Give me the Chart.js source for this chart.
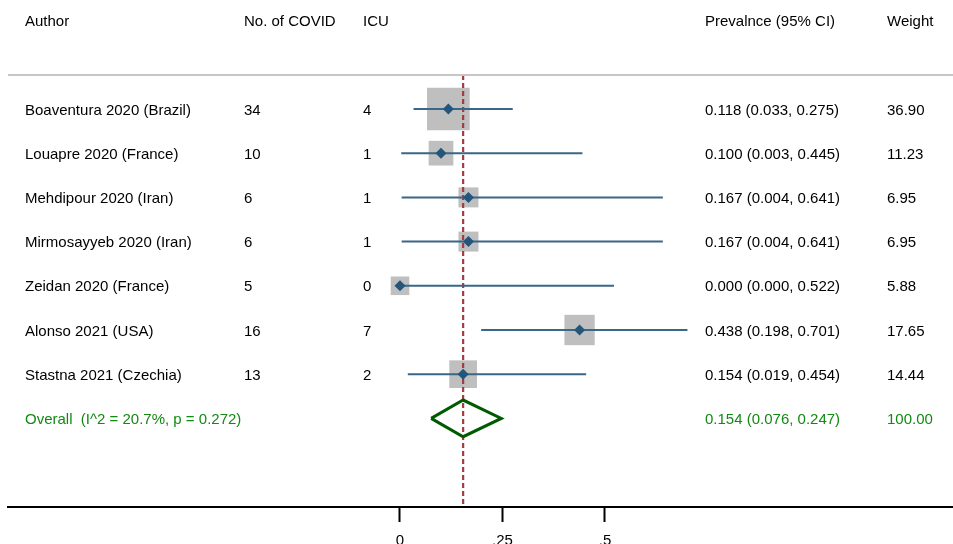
<!DOCTYPE html>
<html>
<head>
<meta charset="utf-8">
<script src="https://cdn.jsdelivr.net/npm/chart.js@4/dist/chart.umd.min.js"></script>
<style>
  html, body { margin: 0; padding: 0; background: #fff; }
  #wrap { width: 953px; height: 544px; position: relative; overflow: hidden; }
  canvas { display: block; }
</style>
</head>
<body>
<div id="wrap"><canvas id="c" width="953" height="544"></canvas></div>
<script>
// ---------- data ----------
const headers = ['Author', 'No. of COVID', 'ICU', 'Prevalnce (95% CI)', 'Weight'];
const authors = [
  'Boaventura 2020 (Brazil)',
  'Louapre 2020 (France)',
  'Mehdipour 2020 (Iran)',
  'Mirmosayyeb 2020 (Iran)',
  'Zeidan 2020 (France)',
  'Alonso 2021 (USA)',
  'Stastna 2021 (Czechia)'
];
const nCovid = [34, 10, 6, 6, 5, 16, 13];
const nIcu = [4, 1, 1, 1, 0, 7, 2];
const prevalence = [0.118, 0.100, 0.167, 0.167, 0.000, 0.438, 0.154];
const ciLower = [0.033, 0.003, 0.004, 0.004, 0.000, 0.198, 0.019];
const ciUpper = [0.275, 0.445, 0.641, 0.641, 0.522, 0.701, 0.454];
const weights = [36.90, 11.23, 6.95, 6.95, 5.88, 17.65, 14.44];
const overallLabel = 'Overall  (I^2 = 20.7%, p = 0.272)';
const overallEst = 0.154;
const overallLower = 0.076;
const overallUpper = 0.247;
const overallWeight = 100.00;
const tickValues = [0, 0.25, 0.5];
const tickLabels = ['0', '.25', '.5'];

// ---------- layout / style constants ----------
const FONT = '"Liberation Sans", Arial, Helvetica, sans-serif';
const FONT_SIZE = 15;
const TEXT_DY = 1.5;
const X_MIN = -0.9561, X_MAX = 1.3488;
const Y_MIN = -2.466, Y_MAX = 9.005;
const HEADER_ROW = -2;
const SEP_ROW = -0.77;
const OVERALL_ROW = authors.length;
const DIAMOND_HALF = 0.415;
const COL_X = [25, 244, 363, 705, 887];
const BLACK = '#000000';
const GREEN_TEXT = '#128a12';
const GREEN_DIAMOND = '#005a00';
const BOX_GRAY = '#bfbfbf';
const CI_BLUE = '#3a6788';
const MARK_BLUE = '#24557a';
const REF_RED = '#a63a3c';

function boxSide(w) { return 6.6 * Math.sqrt(w) + 2.6; }
const fmt3 = v => v.toFixed(3);

// ---------- datasets ----------
const rows = authors.map((_, i) => i);

const boxData = rows.map(i => ({ x: prevalence[i], y: i }));
const markData = rows.map(i => ({ x: prevalence[i], y: i }));
const ciData = [];
rows.forEach(i => {
  ciData.push({ x: ciLower[i], y: i });
  ciData.push({ x: ciUpper[i], y: i });
  ciData.push({ x: NaN, y: NaN });
});
const diamondData = [
  { x: overallLower, y: OVERALL_ROW },
  { x: overallEst, y: OVERALL_ROW - DIAMOND_HALF },
  { x: overallUpper, y: OVERALL_ROW },
  { x: overallEst, y: OVERALL_ROW + DIAMOND_HALF },
  { x: overallLower, y: OVERALL_ROW }
];
const refData = [
  { x: overallEst, y: SEP_ROW },
  { x: overallEst, y: Y_MAX }
];

// ---------- text plugin ----------
const textPlugin = {
  id: 'forestText',
  afterDatasetsDraw(chart) {
    const ctx = chart.ctx;
    const ys = chart.scales.y;
    const area = chart.chartArea;
    ctx.save();
    // separator line
    const sy = ys.getPixelForValue(SEP_ROW);
    ctx.strokeStyle = '#c6c6c6';
    ctx.lineWidth = 2;
    ctx.beginPath();
    ctx.moveTo(area.left, sy);
    ctx.lineTo(area.right, sy);
    ctx.stroke();

    ctx.font = FONT_SIZE + 'px ' + FONT;
    ctx.textBaseline = 'middle';
    ctx.textAlign = 'left';
    ctx.fillStyle = BLACK;
    const hy = ys.getPixelForValue(HEADER_ROW) + TEXT_DY;
    headers.forEach((h, k) => ctx.fillText(h, COL_X[k], hy));
    rows.forEach(i => {
      const y = ys.getPixelForValue(i) + TEXT_DY;
      ctx.fillText(authors[i], COL_X[0], y);
      ctx.fillText(String(nCovid[i]), COL_X[1], y);
      ctx.fillText(String(nIcu[i]), COL_X[2], y);
      ctx.fillText(fmt3(prevalence[i]) + ' (' + fmt3(ciLower[i]) + ', ' + fmt3(ciUpper[i]) + ')', COL_X[3], y);
      ctx.fillText(weights[i].toFixed(2), COL_X[4], y);
    });
    const oy = ys.getPixelForValue(OVERALL_ROW) + TEXT_DY;
    ctx.fillStyle = GREEN_TEXT;
    ctx.fillText(overallLabel, COL_X[0], oy);
    ctx.fillText(fmt3(overallEst) + ' (' + fmt3(overallLower) + ', ' + fmt3(overallUpper) + ')', COL_X[3], oy);
    ctx.fillText(overallWeight.toFixed(2), COL_X[4], oy);
    ctx.restore();
  }
};

new Chart(document.getElementById('c'), {
  type: 'scatter',
  data: {
    datasets: [
      {
        label: 'estimate', data: markData, order: 1,
        pointStyle: 'rectRot', pointRadius: 5.5,
        backgroundColor: MARK_BLUE, borderColor: MARK_BLUE, borderWidth: 0
      },
      {
        label: 'CI', data: ciData, order: 2, showLine: true, spanGaps: false,
        borderColor: CI_BLUE, borderWidth: 2, pointRadius: 0
      },
      {
        label: 'overall', data: diamondData, order: 3, showLine: true,
        borderColor: GREEN_DIAMOND, borderWidth: 3, pointRadius: 0, fill: false,
        borderJoinStyle: 'miter'
      },
      {
        label: 'ref', data: refData, order: 4, showLine: true,
        borderColor: REF_RED, borderWidth: 2.2, borderDash: [5, 3], pointRadius: 0
      },
      {
        label: 'weight', data: boxData, order: 5,
        pointStyle: 'rect',
        pointRadius: c => boxSide(weights[c.dataIndex]) / Math.SQRT2,
        backgroundColor: BOX_GRAY, borderColor: BOX_GRAY, borderWidth: 0
      }
    ]
  },
  options: {
    responsive: false,
    animation: false,
    events: [],
    layout: { autoPadding: false, padding: { left: 8, right: 0, top: 0, bottom: 0 } },
    plugins: { legend: { display: false }, tooltip: { enabled: false } },
    scales: {
      x: {
        type: 'linear', position: 'bottom', min: X_MIN, max: X_MAX,
        afterBuildTicks: s => { s.ticks = tickValues.map(v => ({ value: v })); },
        afterFit: s => { s.height = 37; },
        ticks: {
          autoSkip: false, maxRotation: 0, padding: 10, color: BLACK,
          font: { family: FONT, size: FONT_SIZE },
          callback: (v, idx) => tickLabels[idx]
        },
        grid: {
          display: true, drawOnChartArea: false, drawTicks: true,
          tickLength: 15, tickWidth: 2, tickColor: BLACK
        },
        border: { display: true, color: BLACK, width: 2 }
      },
      y: { type: 'linear', display: false, reverse: true, min: Y_MIN, max: Y_MAX }
    }
  },
  plugins: [textPlugin]
});
</script>
</body>
</html>
